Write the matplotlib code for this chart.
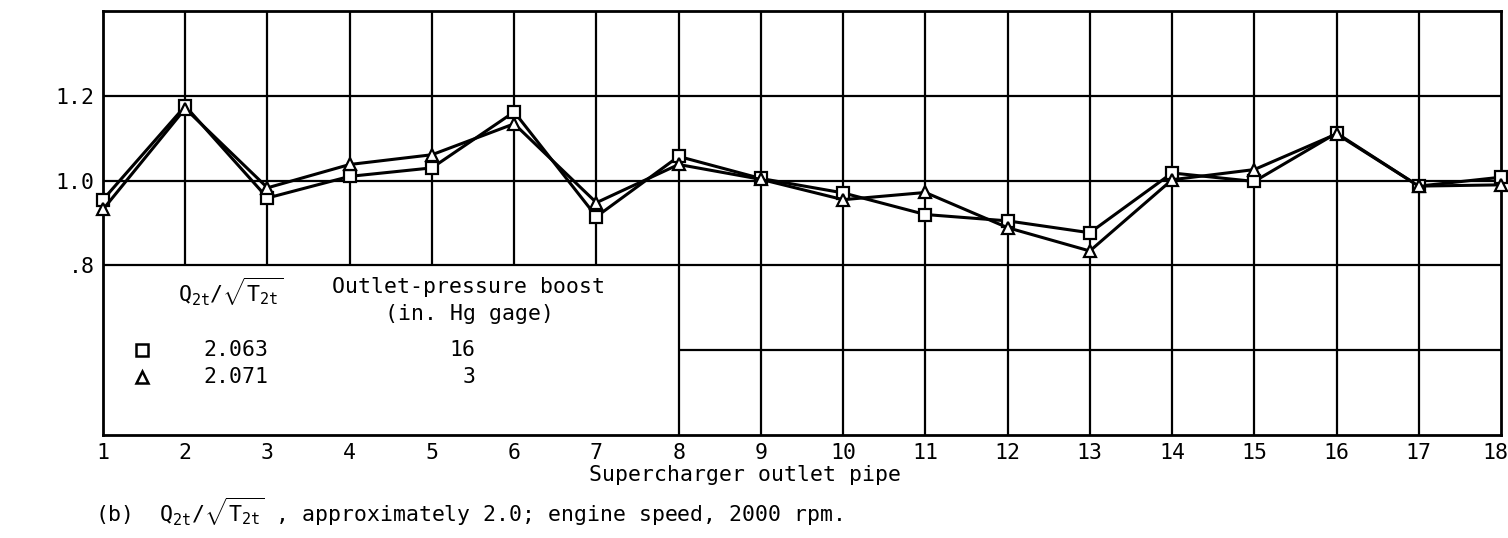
import matplotlib
matplotlib.use("Agg")
import matplotlib.pyplot as plt
import matplotlib.transforms as mtransforms

# ---- data ----
pipes = list(range(1, 19))
sq_vals = [0.955, 1.176, 0.959, 1.010, 1.030, 1.162, 0.915, 1.057, 1.005,
           0.971, 0.920, 0.905, 0.877, 1.018, 0.998, 1.112, 0.987, 1.008]
tri_vals = [0.932, 1.170, 0.983, 1.038, 1.061, 1.134, 0.948, 1.038, 1.003,
            0.955, 0.972, 0.889, 0.834, 1.002, 1.026, 1.110, 0.987, 0.990]
ytick_vals = [0.8, 1.0, 1.2]
ytick_labels = [".8", "1.0", "1.2"]
legend_flow = ["2.063", "2.071"]
legend_boost = ["16", "3"]

FONT = "DejaVu Sans Mono"
plt.rcParams["font.family"] = [FONT, "DejaVu Sans"]
plt.rcParams["mathtext.fontset"] = "custom"
plt.rcParams["mathtext.rm"] = FONT
plt.rcParams["mathtext.it"] = FONT
plt.rcParams["mathtext.bf"] = FONT
FS = 15.5

fig = plt.figure(figsize=(15.08, 5.38), dpi=100)
ax = fig.add_axes([103 / 1508, 1 - 435 / 538, (1501 - 103) / 1508, (435 - 11) / 538])
ax.set_xlim(1, 18)
ax.set_ylim(0.4, 1.4)

# grid (legend area left blank)
glw = 1.6
for x in pipes[1:-1]:
    ymin = 0.8 if x < 8 else 0.4
    ax.vlines(x, ymin, 1.4, color="black", lw=glw, zorder=1)
for y in ytick_vals:
    ax.hlines(y, 1, 18, color="black", lw=glw, zorder=1)
ax.hlines(0.6, 8, 18, color="black", lw=glw, zorder=1)

for s in ax.spines.values():
    s.set_linewidth(2.0)

ax.plot(pipes, sq_vals, color="black", lw=2.2, marker="s", ms=8,
        mfc="white", mec="black", mew=1.6, zorder=3, clip_on=False)
ax.plot(pipes, tri_vals, color="black", lw=2.2, marker="^", ms=8.5,
        mfc="white", mec="black", mew=1.6, zorder=3, clip_on=False)

ax.set_xticks(pipes)
ax.set_xticklabels([str(p) for p in pipes], fontsize=FS)
ax.set_yticks(ytick_vals)
ax.set_yticklabels(ytick_labels, fontsize=FS)
ax.tick_params(length=0, pad=6)
last = ax.get_xticklabels()[-1]
last.set_horizontalalignment("right")
last.set_transform(last.get_transform() +
                   mtransforms.ScaledTranslation(7 / 100, 0, fig.dpi_scale_trans))

# legend block inside the axes
ax.text(2.55, 0.738, r"$\mathregular{Q_{2t}/\sqrt{T_{2t}}}$", fontsize=FS,
        ha="center", va="center")
ax.text(5.44, 0.748, "Outlet-pressure boost", fontsize=FS, ha="center", va="center")
ax.text(5.46, 0.685, "(in. Hg gage)", fontsize=FS, ha="center", va="center")
leg_y = [0.600, 0.536]
ax.plot([1.47], [leg_y[0]], marker="s", ms=8, mfc="white", mec="black", mew=1.8, ls="none")
ax.plot([1.47], [leg_y[1]], marker="^", ms=8.5, mfc="white", mec="black", mew=1.8, ls="none")
for i in range(2):
    ax.text(2.22, leg_y[i], legend_flow[i], fontsize=FS, ha="left", va="center")
    ax.text(5.53, leg_y[i], legend_boost[i], fontsize=FS, ha="right", va="center")

fig.text(745 / 1508, 1 - 475 / 538, "Supercharger outlet pipe", fontsize=FS,
         ha="center", va="center")
fig.text(95 / 1508, 1 - 512 / 538,
         r"(b)  $\mathregular{Q_{2t}/\sqrt{T_{2t}}}$ , approximately 2.0; engine speed, 2000 rpm.",
         fontsize=FS, ha="left", va="center")

fig.savefig("out.png", dpi=100)
